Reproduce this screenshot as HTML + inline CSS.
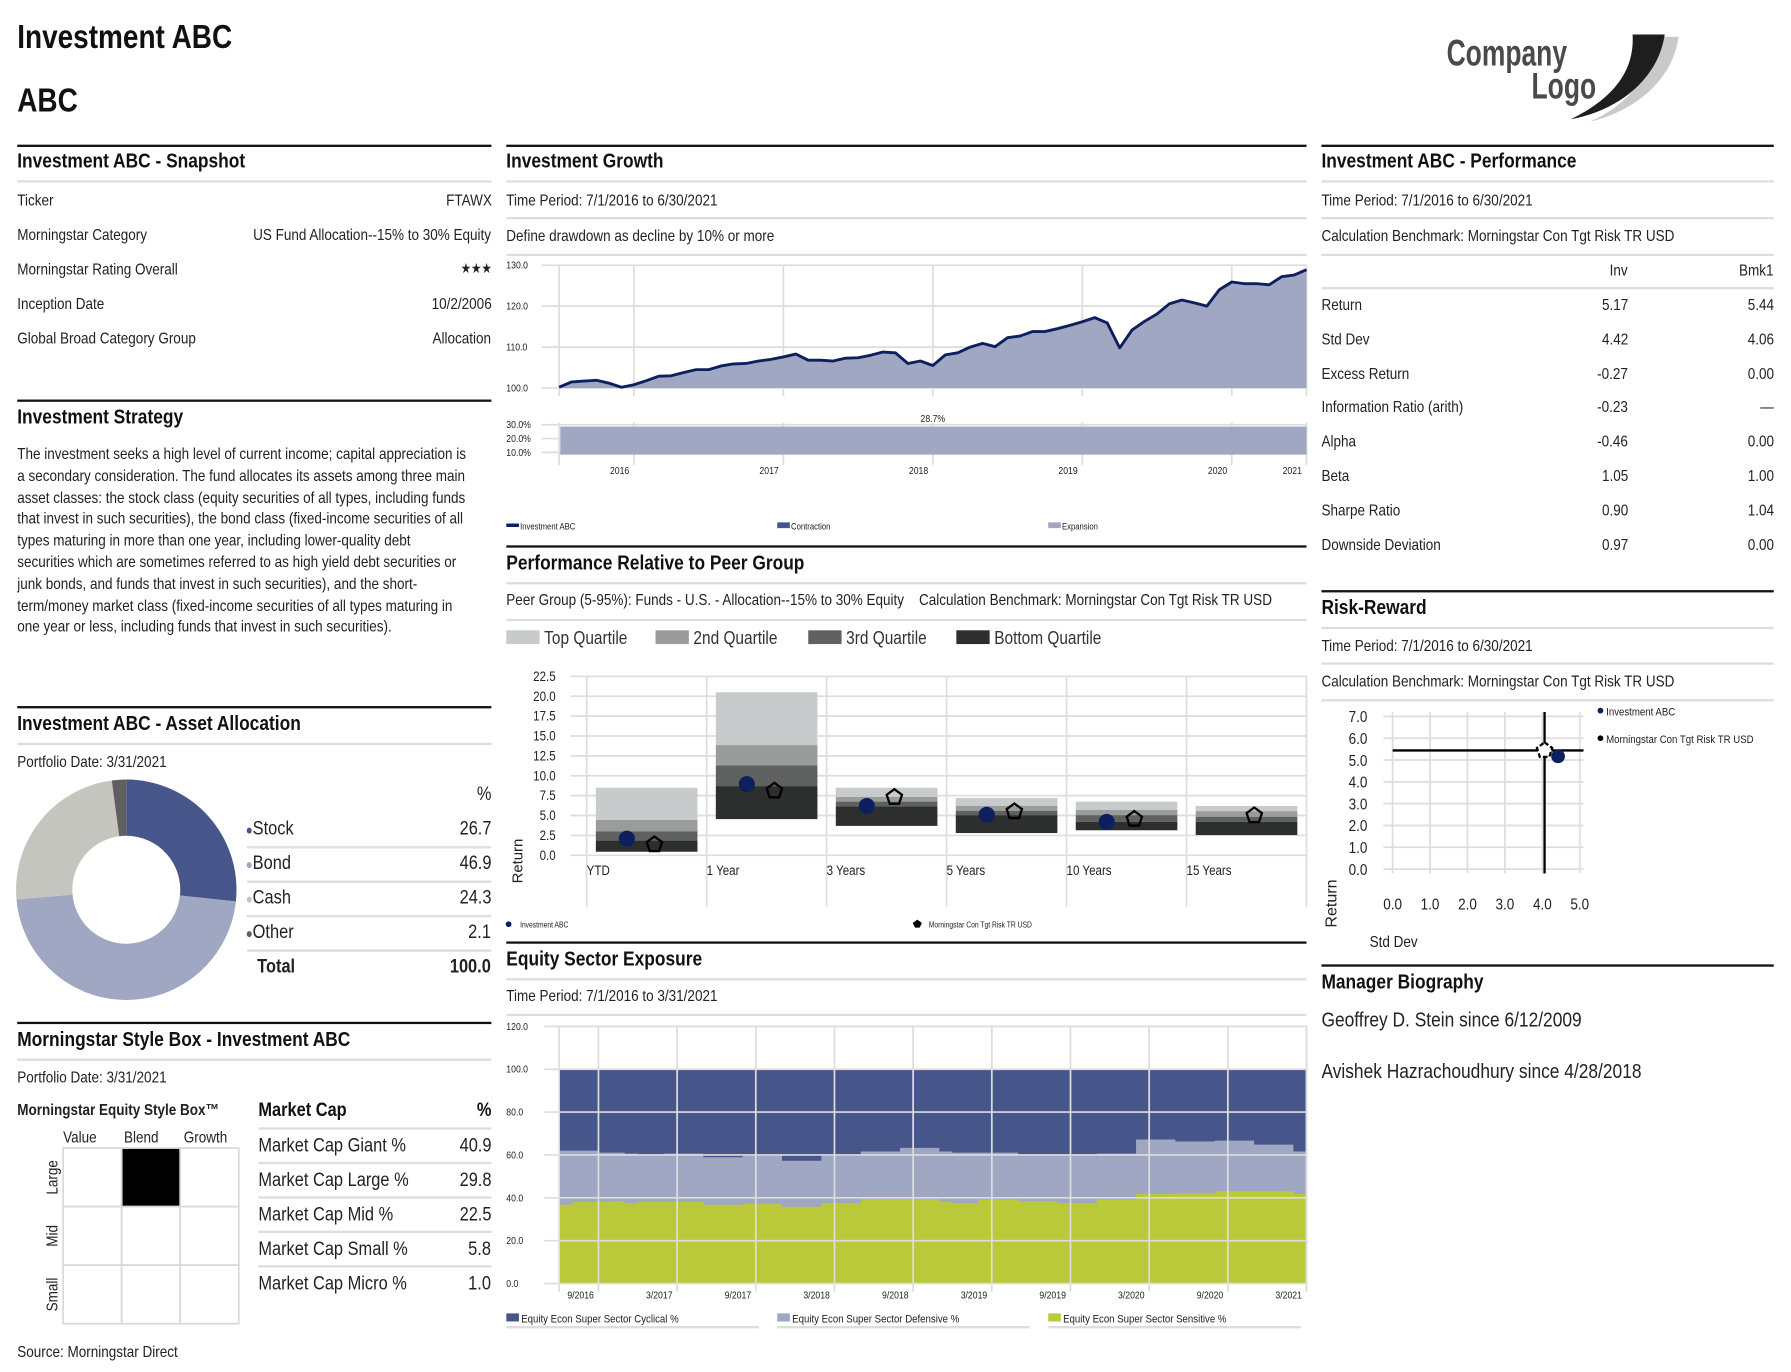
<!DOCTYPE html>
<html><head><meta charset="utf-8"><title>Investment ABC</title>
<style>
html,body{margin:0;padding:0;background:#fff;width:1791px;height:1372px;overflow:hidden}
#page{position:absolute;left:0;top:0;width:1560px;height:1195px;transform:scale(1.14808);transform-origin:0 0;font-family:"Liberation Sans Narrow","Liberation Sans",sans-serif;color:#222}
.t{position:absolute;white-space:nowrap;font-size:14px;line-height:18px;transform:scaleX(0.84);transform-origin:0 0}
.h{position:absolute;white-space:nowrap;font-size:18px;line-height:22px;font-weight:bold;color:#111;transform:scaleX(0.84);transform-origin:0 0}
.r{position:absolute;height:2px;background:#111}
.g{position:absolute;height:2px;background:#ddd}
.big{font-size:17px;line-height:20px}
svg text{font-family:"Liberation Sans Narrow","Liberation Sans",sans-serif}
</style></head><body>
<div id="page">
<svg id="charts" width="1560" height="1195" style="position:absolute;left:0;top:0"></svg>

<div class="h" style="left:15px;top:16px;font-size:29px;line-height:34px">Investment ABC</div>
<div class="h" style="left:15px;top:71px;font-size:29px;line-height:34px">ABC</div>

<div class="r" style="left:15px;width:413px;top:126px"></div>
<div class="h" style="left:15px;top:129px">Investment ABC - Snapshot</div>
<div class="g" style="left:15px;width:413px;top:157px"></div>
<div class="t" style="left:15px;top:165px">Ticker</div>
<div class="t" style="right:1132px;top:165px">FTAWX</div>
<div class="t" style="left:15px;top:195px">Morningstar Category</div>
<div class="t" style="right:1132px;top:195px">US Fund Allocation--15% to 30% Equity</div>
<div class="t" style="left:15px;top:225px">Morningstar Rating Overall</div>
<div class="t" style="right:1132px;top:225px;font-size:12px">★★★</div>
<div class="t" style="left:15px;top:255px">Inception Date</div>
<div class="t" style="right:1132px;top:255px">10/2/2006</div>
<div class="t" style="left:15px;top:285px">Global Broad Category Group</div>
<div class="t" style="right:1132px;top:285px">Allocation</div>

<div class="r" style="left:15px;width:413px;top:348px"></div>
<div class="h" style="left:15px;top:352px">Investment Strategy</div>
<div class="t" style="left:15px;top:386px;width:470px;white-space:normal;line-height:18.8px">The investment seeks a high level of current income; capital appreciation is a secondary consideration. The fund allocates its assets among three main asset classes: the stock class (equity securities of all types, including funds that invest in such securities), the bond class (fixed-income securities of all types maturing in more than one year, including lower-quality debt securities which are sometimes referred to as high yield debt securities or junk bonds, and funds that invest in such securities), and the short-term/money market class (fixed-income securities of all types maturing in one year or less, including funds that invest in such securities).</div>

<div class="r" style="left:15px;width:413px;top:615px"></div>
<div class="h" style="left:15px;top:619px">Investment ABC - Asset Allocation</div>
<div class="g" style="left:15px;width:413px;top:647px"></div>
<div class="t" style="left:15px;top:654px">Portfolio Date: 3/31/2021</div>
<div class="t big" style="right:1132px;top:682px">%</div>

<div class="r" style="left:15px;width:413px;top:890px"></div>
<div class="h" style="left:15px;top:894px">Morningstar Style Box - Investment ABC</div>
<div class="g" style="left:15px;width:413px;top:922px"></div>
<div class="t" style="left:15px;top:929px">Portfolio Date: 3/31/2021</div>
<div class="t" style="left:15px;top:957px;font-weight:bold;font-size:14px">Morningstar Equity Style Box™</div>
<div class="t" style="left:55px;top:981px">Value</div>
<div class="t" style="left:108px;top:981px">Blend</div>
<div class="t" style="left:160px;top:981px">Growth</div>
<div class="h" style="left:225px;top:956px;font-size:17px">Market Cap</div>
<div class="h" style="right:1132px;top:956px;font-size:17px">%</div>
<div class="t" style="left:15px;top:1168px">Source: Morningstar Direct</div>

<div class="r" style="left:441px;width:697px;top:126px"></div>
<div class="h" style="left:441px;top:129px">Investment Growth</div>
<div class="g" style="left:441px;width:697px;top:157px"></div>
<div class="t" style="left:441px;top:165px">Time Period: 7/1/2016 to 6/30/2021</div>
<div class="g" style="left:441px;width:697px;top:189px"></div>
<div class="t" style="left:441px;top:196px">Define drawdown as decline by 10% or more</div>
<div class="g" style="left:441px;width:697px;top:221px"></div>

<div class="r" style="left:441px;width:697px;top:475px"></div>
<div class="h" style="left:441px;top:479px">Performance Relative to Peer Group</div>
<div class="g" style="left:441px;width:697px;top:507px"></div>
<div class="t" style="left:441px;top:513px">Peer Group (5-95%): Funds - U.S. - Allocation--15% to 30% Equity &nbsp;&nbsp; Calculation Benchmark: Morningstar Con Tgt Risk TR USD</div>
<div class="g" style="left:441px;width:697px;top:539px"></div>

<div class="r" style="left:441px;width:697px;top:820px"></div>
<div class="h" style="left:441px;top:824px">Equity Sector Exposure</div>
<div class="g" style="left:441px;width:697px;top:852px"></div>
<div class="t" style="left:441px;top:858px">Time Period: 7/1/2016 to 3/31/2021</div>
<div class="g" style="left:441px;width:697px;top:883px"></div>

<div class="r" style="left:1151px;width:394px;top:126px"></div>
<div class="h" style="left:1151px;top:129px">Investment ABC - Performance</div>
<div class="g" style="left:1151px;width:394px;top:157px"></div>
<div class="t" style="left:1151px;top:165px">Time Period: 7/1/2016 to 6/30/2021</div>
<div class="g" style="left:1151px;width:394px;top:189px"></div>
<div class="t" style="left:1151px;top:196px">Calculation Benchmark: Morningstar Con Tgt Risk TR USD</div>
<div class="g" style="left:1151px;width:394px;top:221px"></div>
<div class="t" style="right:142px;top:226px">Inv</div>
<div class="t" style="right:15px;top:226px">Bmk1</div>
<div class="g" style="left:1151px;width:394px;top:250px"></div>

<div class="r" style="left:1151px;width:394px;top:514px"></div>
<div class="h" style="left:1151px;top:518px">Risk-Reward</div>
<div class="g" style="left:1151px;width:394px;top:546px"></div>
<div class="t" style="left:1151px;top:553px">Time Period: 7/1/2016 to 6/30/2021</div>
<div class="g" style="left:1151px;width:394px;top:577px"></div>
<div class="t" style="left:1151px;top:584px">Calculation Benchmark: Morningstar Con Tgt Risk TR USD</div>
<div class="g" style="left:1151px;width:394px;top:609px"></div>

<div class="r" style="left:1151px;width:394px;top:840px"></div>
<div class="h" style="left:1151px;top:844px">Manager Biography</div>
<div class="t" style="left:1151px;top:877px;font-size:18px;line-height:22px">Geoffrey D. Stein since 6/12/2009</div>
<div class="t" style="left:1151px;top:922px;font-size:18px;line-height:22px">Avishek Hazrachoudhury since 4/28/2018</div>
</div>

<script>
var allocLabels = ["Stock","Bond","Cash","Other"];
var allocValues = [26.7,46.9,24.3,2.1];
var allocColors = ["#47568a","#a0a7c2","#c4c5bf","#5f5f5f"];
var mcLabels = ["Market Cap Giant %","Market Cap Large %","Market Cap Mid %","Market Cap Small %","Market Cap Micro %"];
var mcValues = ["40.9","29.8","22.5","5.8","1.0"];
var perfLabels = ["Return","Std Dev","Excess Return","Information Ratio (arith)","Alpha","Beta","Sharpe Ratio","Downside Deviation"];
var perfInv = ["5.17","4.42","-0.27","-0.23","-0.46","1.05","0.90","0.97"];
var perfBmk = ["5.44","4.06","0.00","—","0.00","1.00","1.04","0.00"];

var growthValues = [100.2,101.5,101.7,101.9,101.2,100.2,100.8,101.8,102.9,103.0,103.8,104.5,104.5,105.4,105.9,106.0,106.6,107.0,107.6,108.3,106.8,106.8,106.6,107.3,107.4,108.0,108.8,108.6,106.0,106.6,105.5,108.1,108.6,110.0,110.9,110.1,112.3,112.7,113.8,113.8,114.5,115.3,116.2,117.2,115.9,109.8,114.2,116.3,118.1,120.6,121.5,120.8,120.0,124.0,125.9,125.5,125.5,125.2,127.2,127.6,128.9];
var growthTicks = [100,110,120,130];
var yearLabels = ["2016","2017","2018","2019","2020","2021"];
var yearIdx = [6,18,30,42,54,60];
var maxDrawdown = 28.7;
var ddTicks = [10,20,30];

var peerCats = ["YTD","1 Year","3 Years","5 Years","10 Years","15 Years"];
var peerTop = [8.5,20.5,8.5,7.2,6.75,6.2];
var peerQ2 = [4.45,13.85,7.35,6.2,5.7,5.55];
var peerMed = [3.0,11.3,6.75,5.6,5.05,4.85];
var peerQ3 = [1.85,8.7,6.15,5.05,4.2,4.2];
var peerBot = [0.45,4.55,3.7,2.8,3.15,2.55];
var peerInv = [2.1,8.95,6.2,5.1,4.2,null];
var peerBench = [1.35,8.1,7.3,5.5,4.55,5.0];
var peerTicks = [0,2.5,5,7.5,10,12.5,15,17.5,20,22.5];

var rrInv = [4.42,5.17];
var rrBench = [4.06,5.44];
var rrXTicks = [0,1,2,3,4,5];
var rrYTicks = [0,1,2,3,4,5,6,7];

var sectorSensitive = [36.7,38.1,38.1,38.1,38.4,37.5,38.1,38.1,38.1,38.1,38.1,36.7,36.7,36.7,37.2,37.2,37.2,35.8,35.8,35.8,37.5,37.5,37.5,39.4,39.4,39.4,39.4,39.4,39.4,38.1,37.5,37.5,39.2,39.2,39.2,38.4,38.4,38.4,37.5,37.5,37.5,39.2,39.2,39.2,41.7,41.7,41.7,42.2,42.2,42.2,43.1,43.1,43.1,43.1,43.1,43.1,41.7];
var sectorCyclical = [38.0,38.0,38.0,38.9,38.9,39.4,39.8,39.8,39.4,39.4,39.4,41.1,41.1,41.1,40.3,40.3,40.3,42.7,42.7,42.7,40.3,40.3,40.3,38.4,38.4,38.4,36.7,36.7,36.7,38.4,38.9,38.9,38.9,38.9,38.9,39.8,39.8,39.8,39.8,39.8,39.8,39.4,39.4,39.4,32.8,32.8,32.8,33.7,33.7,33.7,33.3,33.3,33.3,35.2,35.2,35.2,38.4];
var sectorTicks = [0,20,40,60,80,100,120];
var sectorDates = ["9/2016","3/2017","9/2017","3/2018","9/2018","3/2019","9/2019","3/2020","9/2020","3/2021"];

var NS = "http://www.w3.org/2000/svg";
var svg = document.getElementById("charts");
var page = document.getElementById("page");
var CX = 0.84;
function S(tag, attrs, name){
  var el = document.createElementNS(NS, tag);
  for (var k in attrs) el.setAttribute(k, attrs[k]);
  
  
  svg.appendChild(el);
  return el;
}
function TX(x,y,str,size,anchor,name,extra){
  var a = {x:x,y:y,"font-size":size,"text-anchor":anchor||"start",fill:"#222"};
  if (extra) for (var k in extra) a[k]=extra[k];
  if (!a.transform) a.transform = "translate("+x+",0) scale("+CX+",1) translate("+(-x)+",0)";
  var el = S("text", a, name);
  el.textContent = str;
  return el;
}
function D(cls, style, html, name){
  var el = document.createElement("div");
  el.className = cls; el.setAttribute("style", style); el.innerHTML = html;
  
  
  page.appendChild(el);
  return el;
}

S("path",{d:"M1435 32 L1462 32 C1458 65 1430 95 1385 106 C1420 90 1440 65 1435 32 Z",fill:"#c9c9c9"},"logo-swoosh-shadow");
S("path",{d:"M1422 30 L1450 30 C1445 65 1415 95 1368 104 C1405 86 1424 62 1422 30 Z",fill:"#1e1e1e"},"logo-swoosh");
TX(1260,57,"Company",32,"start","logo-company",{"font-weight":"bold",fill:"#4a4a4a",transform:"translate(1260,0) scale(0.72,1) translate(-1260,0)"});
TX(1334,86,"Logo",32,"start","logo-logo",{"font-weight":"bold",fill:"#4a4a4a",transform:"translate(1334,0) scale(0.72,1) translate(-1334,0)"});

(function(){
  var cx=110, cy=775, R=96, r=47, a0=-Math.PI/2, tot=0;
  allocValues.forEach(function(v){tot+=v;});
  allocValues.forEach(function(v,i){
    var a1 = a0 + v/tot*2*Math.PI, lg = (a1-a0)>Math.PI?1:0;
    var p = "M"+(cx+R*Math.cos(a0))+" "+(cy+R*Math.sin(a0))+" A"+R+" "+R+" 0 "+lg+" 1 "+(cx+R*Math.cos(a1))+" "+(cy+R*Math.sin(a1))+
            " L"+(cx+r*Math.cos(a1))+" "+(cy+r*Math.sin(a1))+" A"+r+" "+r+" 0 "+lg+" 0 "+(cx+r*Math.cos(a0))+" "+(cy+r*Math.sin(a0))+" Z";
    S("path",{d:p,fill:allocColors[i]},"donut-slice-"+allocLabels[i].toLowerCase());
    a0 = a1;
  });
  allocLabels.forEach(function(l,i){
    var y = 723 + i*30;
    D("t big","left:214px;top:"+(y-11)+"px","<span style='color:"+allocColors[i]+";font-size:12px'>●</span>"+l,"alloc-label-"+l.toLowerCase());
    D("t big","right:1132px;top:"+(y-11)+"px",allocValues[i].toFixed(1),"alloc-value-"+l.toLowerCase());
    D("g","left:215px;width:213px;top:"+(y+14)+"px","","alloc-row-sep");
  });
  D("t big","left:224px;top:832px;font-weight:bold","Total","alloc-total-label");
  D("t big","right:1132px;top:832px;font-weight:bold","100.0","alloc-total-value");
})();

(function(){
  var x0=55, y0=1000, c=51;
  for (var rI=0;rI<3;rI++) for (var cI=0;cI<3;cI++){
    S("rect",{x:x0+cI*c,y:y0+rI*c,width:c,height:c,fill:(rI==0&&cI==1)?"#000":"#fff",stroke:"#d9d9d9","stroke-width":1.5},"stylebox-cell");
  }
  ["Large","Mid","Small"].forEach(function(l,i){
    var cy=y0+i*c+c/2;
    TX(50, cy, l, 14, "middle", "stylebox-row-"+l.toLowerCase(), {transform:"rotate(-90 50 "+cy+") translate(50,0) scale(0.84,1) translate(-50,0)"});
  });
  mcLabels.forEach(function(l,i){
    var y = 999 + i*30;
    D("t big","left:225px;top:"+(y-11)+"px",l,"marketcap-label");
    D("t big","right:1132px;top:"+(y-11)+"px",mcValues[i],"marketcap-value");
    D("g","left:225px;width:203px;top:"+(y-17)+"px","","marketcap-sep");
  });
})();

perfLabels.forEach(function(l,i){
  var y = 266 + i*29.8;
  D("t","left:1151px;top:"+(y-10)+"px",l,"perf-label");
  D("t","right:142px;top:"+(y-10)+"px",perfInv[i],"perf-inv-value");
  D("t","right:15px;top:"+(y-10)+"px",perfBmk[i],"perf-bmk-value");
});

(function(){
  var L=487, Rt=1138, y100=338, y130=231;
  function gx(i){return L + i*(Rt-L)/(growthValues.length-1);}
  function gy(v){return y100 - (v-100)*(y100-y130)/30;}
  growthTicks.forEach(function(t){
    S("line",{x1:472,x2:Rt,y1:gy(t),y2:gy(t),stroke:"#ddd","stroke-width":1.5},"growth-gridline");
    TX(441,gy(t)+3,t.toFixed(1),9,"start","growth-y-tick");
  });
  var vx=[L].concat(yearIdx.map(gx));
  vx.forEach(function(x){
    S("line",{x1:x,x2:x,y1:y130,y2:345,stroke:"#ddd","stroke-width":1.5},"growth-vgrid");
    S("line",{x1:x,x2:x,y1:368,y2:405,stroke:"#ddd","stroke-width":1.5},"drawdown-vgrid");
  });
  var d="M"+gx(0)+" "+gy(100);
  growthValues.forEach(function(v,i){d+=" L"+gx(i)+" "+gy(v);});
  d+=" L"+gx(growthValues.length-1)+" "+gy(100)+" Z";
  S("path",{d:d,fill:"#a0a7c2"},"growth-area");
  var ln="";
  growthValues.forEach(function(v,i){ln+=(i?" L":"M")+gx(i)+" "+gy(v);});
  S("path",{d:ln,fill:"none",stroke:"#0d1f5c","stroke-width":2.5,"stroke-linejoin":"round"},"growth-line");
  function dy(v){return 394-(v-10)*1.2;}
  ddTicks.forEach(function(t){
    S("line",{x1:472,x2:Rt,y1:dy(t),y2:dy(t),stroke:"#ddd","stroke-width":1.5},"drawdown-gridline");
    TX(441,dy(t)+3,t.toFixed(1)+"%",9,"start","drawdown-y-tick");
  });
  S("rect",{x:L+1,y:dy(maxDrawdown),width:Rt-L-1,height:396-dy(maxDrawdown),fill:"#a0a7c2"},"drawdown-bar");
  TX((L+Rt)/2,dy(maxDrawdown)-4,maxDrawdown.toFixed(1)+"%",9,"middle","drawdown-label");
  yearLabels.forEach(function(y,i){TX(gx(yearIdx[i])-4,413,y,9,"end","growth-x-tick");});
  S("rect",{x:441,y:456,width:11,height:3,fill:"#0d1f5c"},"legend-investment-swatch");
  TX(453,461,"Investment ABC",8,"start","legend-investment");
  S("rect",{x:677,y:455,width:11,height:5,fill:"#47568a"},"legend-contraction-swatch");
  TX(689,461,"Contraction",8,"start","legend-contraction");
  S("rect",{x:913,y:455,width:11,height:5,fill:"#a0a7c2"},"legend-expansion-swatch");
  TX(925,461,"Expansion",8,"start","legend-expansion");
})();

(function(){
  var L=511, Rt=1138, cw=(Rt-L)/6;
  function py(v){return 745 - v*6.93;}
  var qc=["#c8cbcb","#9a9b9b","#5f6161","#2d2e2e"], qn=["Top Quartile","2nd Quartile","3rd Quartile","Bottom Quartile"], qx=[441,571,704,833];
  qn.forEach(function(n,i){
    S("rect",{x:qx[i],y:549,width:29,height:12,fill:qc[i]},"peer-legend-swatch");
    TX(qx[i]+33,561,n,16,"start","peer-legend-"+i,{fill:"#333"});
  });
  peerTicks.forEach(function(t){
    S("line",{x1:497,x2:Rt,y1:py(t),y2:py(t),stroke:"#ddd","stroke-width":1.5},"peer-gridline");
    TX(484,py(t)+4,t.toFixed(1),12,"end","peer-y-tick");
  });
  for (var i=0;i<=6;i++) S("line",{x1:L+i*cw,x2:L+i*cw,y1:589,y2:790,stroke:"#ddd","stroke-width":1.5},"peer-vgrid");
  TX(455,750,"Return",13,"middle","peer-y-title",{transform:"rotate(-90 455 750)"});
  peerCats.forEach(function(c,i){
    var x=L+i*cw, bx=x+8, bw=cw-16;
    var edges=[peerTop[i],peerQ2[i],peerMed[i],peerQ3[i],peerBot[i]];
    for (var q=0;q<4;q++) S("rect",{x:bx,y:py(edges[q]),width:bw,height:py(edges[q+1])-py(edges[q]),fill:qc[q]},"peer-box-"+i+"-q"+(q+1));
    TX(x,762,c,12,"start","peer-x-label");
    if (peerInv[i]!==null) S("ellipse",{cx:x+35,cy:py(peerInv[i]),rx:7,ry:7,fill:"#0d1f5c"},"peer-investment-dot");
    var bxc=x+59, byc=py(peerBench[i]), pts=[];
    for (var k=0;k<5;k++){var a=-Math.PI/2+k*2*Math.PI/5; pts.push((bxc+7*Math.cos(a))+","+(byc+7*Math.sin(a)));}
    S("polygon",{points:pts.join(" "),fill:"none",stroke:"#000","stroke-width":2},"peer-benchmark-marker");
  });
  S("circle",{cx:443,cy:805,r:2.5,fill:"#0d1f5c"},"peer-legend-inv-dot");
  TX(453,808,"Investment ABC",7,"start","peer-legend-investment");
  S("polygon",{points:"799,801 803,804 801,808 797,808 795,804",fill:"#000"},"peer-legend-bench-marker");
  TX(809,808,"Morningstar Con Tgt Risk TR USD",7,"start","peer-legend-benchmark");
})();

(function(){
  function xs(v){return 1213 + v*32.6;}
  function ys(v){return 757 - v*19;}
  rrYTicks.forEach(function(t){
    S("line",{x1:1205,x2:xs(5.1),y1:ys(t),y2:ys(t),stroke:"#ddd","stroke-width":1.5},"rr-gridline");
    TX(1191,ys(t)+5,t.toFixed(1),14,"end","rr-y-tick");
  });
  rrXTicks.forEach(function(t){
    S("line",{x1:xs(t),x2:xs(t),y1:ys(7.2),y2:ys(-0.2),stroke:"#ddd","stroke-width":1.5},"rr-vgrid");
    TX(xs(t),792,t.toFixed(1),14,"middle","rr-x-tick");
  });
  S("line",{x1:xs(0),x2:xs(5.1),y1:ys(rrBench[1]),y2:ys(rrBench[1]),stroke:"#000","stroke-width":2},"rr-bench-hline");
  S("line",{x1:xs(rrBench[0]),x2:xs(rrBench[0]),y1:ys(7.2),y2:ys(-0.2),stroke:"#000","stroke-width":2},"rr-bench-vline");
  S("circle",{cx:xs(rrInv[0]),cy:ys(rrInv[1]),r:6,fill:"#0d1f5c"},"rr-investment-dot");
  var pts=[],bx=xs(rrBench[0]),by=ys(rrBench[1]);
  for (var k=0;k<5;k++){var a=-Math.PI/2+k*2*Math.PI/5; pts.push((bx+7*Math.cos(a))+","+(by+7*Math.sin(a)));}
  S("polygon",{points:pts.join(" "),fill:"#fff",stroke:"#000","stroke-width":2,"stroke-dasharray":"4 2"},"rr-benchmark-marker");
  S("circle",{cx:1394,cy:619,r:2.5,fill:"#0d1f5c"},"rr-legend-inv-dot");
  TX(1399,623,"Investment ABC",10,"start","rr-legend-investment");
  S("circle",{cx:1394,cy:643,r:2.5,fill:"#000"},"rr-legend-bench-dot");
  TX(1399,647,"Morningstar Con Tgt Risk TR USD",10,"start","rr-legend-benchmark");
  TX(1164,787,"Return",14,"middle","rr-y-title",{transform:"rotate(-90 1164 787)"});
  TX(1193,825,"Std Dev",14,"start","rr-x-title");
})();

(function(){
  var L=487, Rt=1138, n=sectorSensitive.length, mw=(Rt-L)/n;
  function sy(v){return 1118 - v*1.867;}
  function sx(i){return L + i*mw;}
  var dGreen="M"+L+" "+sy(0), dGray="M"+L+" "+sy(0);
  for (var i=0;i<n;i++){
    var top2 = 100 - sectorCyclical[i];
    dGreen+=" L"+sx(i)+" "+sy(sectorSensitive[i])+" L"+sx(i+1)+" "+sy(sectorSensitive[i]);
    dGray+=" L"+sx(i)+" "+sy(top2)+" L"+sx(i+1)+" "+sy(top2);
  }
  dGreen+=" L"+Rt+" "+sy(0)+" Z"; dGray+=" L"+Rt+" "+sy(0)+" Z";
  S("rect",{x:L,y:sy(100),width:Rt-L,height:sy(0)-sy(100),fill:"#47568a"},"sector-cyclical-area");
  S("path",{d:dGray,fill:"#a0a7c2"},"sector-defensive-area");
  S("path",{d:dGreen,fill:"#bac93a"},"sector-sensitive-area");
  sectorTicks.forEach(function(t){
    S("line",{x1:474,x2:Rt,y1:sy(t),y2:sy(t),stroke:"#ddd","stroke-width":1.5},"sector-gridline");
    TX(441,sy(t)+3,t.toFixed(1),9,"start","sector-y-tick");
  });
  S("line",{x1:L,x2:L,y1:sy(120),y2:1125,stroke:"#ddd","stroke-width":1.5},"sector-vgrid");
  sectorDates.forEach(function(d,i){
    var x=sx(3+i*6);
    S("line",{x1:x,x2:x,y1:sy(120),y2:1125,stroke:"#ddd","stroke-width":1.5},"sector-vgrid");
    TX(x-4,1131,d,9,"end","sector-x-tick");
  });
  S("line",{x1:Rt,x2:Rt,y1:sy(120),y2:1125,stroke:"#ddd","stroke-width":1.5},"sector-vgrid");
  var ln=[["Equity Econ Super Sector Cyclical %","#47568a",441],["Equity Econ Super Sector Defensive %","#a0a7c2",677],["Equity Econ Super Sector Sensitive %","#bac93a",913]];
  ln.forEach(function(l,i){
    S("rect",{x:l[2],y:1144,width:11,height:7,fill:l[1]},"sector-legend-swatch");
    TX(l[2]+13,1152,l[0],10,"start","sector-legend-"+i);
    S("line",{x1:l[2],x2:l[2]+220,y1:1156,y2:1156,stroke:"#ddd","stroke-width":2},"sector-legend-underline");
  });
})();

Array.prototype.forEach.call(document.querySelectorAll(".t,.h"), function(el){
  if (el.style.right) el.style.transformOrigin = "100% 0";
});
</script>
</body></html>
